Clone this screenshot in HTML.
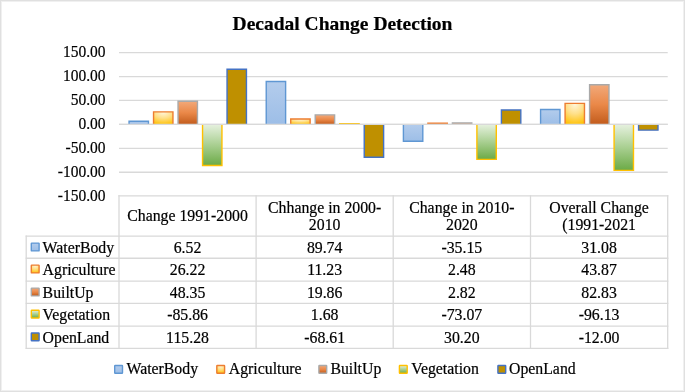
<!DOCTYPE html>
<html><head><meta charset="utf-8"><style>
html,body{margin:0;padding:0;background:#fff;}
body{width:685px;height:392px;overflow:hidden;position:relative;}
svg{position:absolute;left:0;top:0;will-change:transform;}
text{font-family:"Liberation Serif",serif;fill:#000;stroke:#000;stroke-width:0.2px;}
</style></head><body>
<svg width="685" height="392" viewBox="0 0 685 392">
<defs>
<linearGradient id="gWater" x1="0" y1="0" x2="0" y2="1"><stop offset="0" stop-color="#B3CCEC"/><stop offset="1" stop-color="#9DBEE7"/></linearGradient>
<radialGradient id="gAgri" cx="0.5" cy="0.05" r="1.0" fx="0.5" fy="0.05"><stop offset="0" stop-color="#FFF6DA"/><stop offset="0.45" stop-color="#FFE08A"/><stop offset="1" stop-color="#FFC000"/></radialGradient>
<linearGradient id="gBuilt" x1="0" y1="0" x2="0" y2="1"><stop offset="0" stop-color="#F2A97A"/><stop offset="0.5" stop-color="#EA8848"/><stop offset="1" stop-color="#C15B1C"/></linearGradient>
<linearGradient id="gVeg" x1="0" y1="0" x2="0" y2="1"><stop offset="0" stop-color="#E6F1DF"/><stop offset="0.5" stop-color="#A9CF91"/><stop offset="1" stop-color="#6BAA46"/></linearGradient>
</defs>
<rect x="0.5" y="0.5" width="684" height="391" fill="#fff" stroke="#E0E0E0" stroke-width="1"/>
<rect x="1.5" y="1.5" width="682" height="389" fill="none" stroke="#F0F0F0" stroke-width="1"/>

<text x="342.5" y="30" text-anchor="middle" font-weight="bold" font-size="19.5">Decadal Change Detection</text>
<line x1="119.00" x2="667.70" y1="52.59" y2="52.59" stroke="#D9D9D9" stroke-width="1.3"/>
<line x1="119.00" x2="667.70" y1="76.53" y2="76.53" stroke="#D9D9D9" stroke-width="1.3"/>
<line x1="119.00" x2="667.70" y1="100.47" y2="100.47" stroke="#D9D9D9" stroke-width="1.3"/>
<line x1="119.00" x2="667.70" y1="124.40" y2="124.40" stroke="#D9D9D9" stroke-width="1.3"/>
<line x1="119.00" x2="667.70" y1="148.34" y2="148.34" stroke="#D9D9D9" stroke-width="1.3"/>
<line x1="119.00" x2="667.70" y1="172.27" y2="172.27" stroke="#D9D9D9" stroke-width="1.3"/>
<text transform="translate(105.5 57.39) scale(0.912 1)" text-anchor="end" font-size="17">150.00</text>
<text transform="translate(105.5 81.33) scale(0.912 1)" text-anchor="end" font-size="17">100.00</text>
<text transform="translate(105.5 105.27) scale(0.912 1)" text-anchor="end" font-size="17">50.00</text>
<text transform="translate(105.5 129.20) scale(0.912 1)" text-anchor="end" font-size="17">0.00</text>
<text transform="translate(105.5 153.14) scale(0.912 1)" text-anchor="end" font-size="17">-50.00</text>
<text transform="translate(105.5 177.07) scale(0.912 1)" text-anchor="end" font-size="17">-100.00</text>
<text transform="translate(105.5 201.01) scale(0.912 1)" text-anchor="end" font-size="17">-150.00</text>
<rect x="129.05" y="121.28" width="19.40" height="3.12" fill="url(#gWater)"/>
<path d="M129.05 124.40V121.28H148.45V124.40" fill="none" stroke="#5F97D3" stroke-width="1.4"/>
<rect x="266.23" y="81.44" width="19.40" height="42.96" fill="url(#gWater)"/>
<path d="M266.23 124.40V81.44H285.62V124.40" fill="none" stroke="#5F97D3" stroke-width="1.4"/>
<rect x="403.40" y="124.40" width="19.40" height="16.83" fill="url(#gWater)"/>
<path d="M403.40 124.40V141.23H422.80V124.40" fill="none" stroke="#5F97D3" stroke-width="1.4"/>
<rect x="540.58" y="109.52" width="19.40" height="14.88" fill="url(#gWater)"/>
<path d="M540.58 124.40V109.52H559.98V124.40" fill="none" stroke="#5F97D3" stroke-width="1.4"/>
<rect x="153.55" y="111.85" width="19.40" height="12.55" fill="url(#gAgri)"/>
<path d="M153.55 124.40V111.85H172.95V124.40" fill="none" stroke="#ED7D31" stroke-width="1.4"/>
<rect x="290.73" y="119.02" width="19.40" height="5.38" fill="url(#gAgri)"/>
<path d="M290.73 124.40V119.02H310.12V124.40" fill="none" stroke="#ED7D31" stroke-width="1.4"/>
<rect x="427.90" y="123.21" width="19.40" height="1.19" fill="url(#gAgri)"/>
<path d="M427.90 124.40V123.21H447.30V124.40" fill="none" stroke="#ED7D31" stroke-width="1.4"/>
<rect x="565.08" y="103.40" width="19.40" height="21.00" fill="url(#gAgri)"/>
<path d="M565.08 124.40V103.40H584.48V124.40" fill="none" stroke="#ED7D31" stroke-width="1.4"/>
<rect x="178.05" y="101.25" width="19.40" height="23.15" fill="url(#gBuilt)"/>
<path d="M178.05 124.40V101.25H197.45V124.40" fill="none" stroke="#A9A9A9" stroke-width="1.4"/>
<rect x="315.23" y="114.89" width="19.40" height="9.51" fill="url(#gBuilt)"/>
<path d="M315.23 124.40V114.89H334.62V124.40" fill="none" stroke="#A9A9A9" stroke-width="1.4"/>
<rect x="452.40" y="123.05" width="19.40" height="1.35" fill="url(#gBuilt)"/>
<path d="M452.40 124.40V123.05H471.80V124.40" fill="none" stroke="#A9A9A9" stroke-width="1.4"/>
<rect x="589.58" y="84.75" width="19.40" height="39.65" fill="url(#gBuilt)"/>
<path d="M589.58 124.40V84.75H608.98V124.40" fill="none" stroke="#A9A9A9" stroke-width="1.4"/>
<rect x="202.55" y="124.40" width="19.40" height="41.10" fill="url(#gVeg)"/>
<path d="M202.55 124.40V165.50H221.95V124.40" fill="none" stroke="#FFC000" stroke-width="1.4"/>
<rect x="339.73" y="123.60" width="19.40" height="0.80" fill="url(#gVeg)"/>
<path d="M339.73 124.40V123.60H359.12V124.40" fill="none" stroke="#FFC000" stroke-width="1.4"/>
<rect x="476.90" y="124.40" width="19.40" height="34.98" fill="url(#gVeg)"/>
<path d="M476.90 124.40V159.38H496.30V124.40" fill="none" stroke="#FFC000" stroke-width="1.4"/>
<rect x="614.08" y="124.40" width="19.40" height="46.02" fill="url(#gVeg)"/>
<path d="M614.08 124.40V170.42H633.48V124.40" fill="none" stroke="#FFC000" stroke-width="1.4"/>
<rect x="227.05" y="69.22" width="19.40" height="55.18" fill="#BF9000"/>
<path d="M227.05 124.40V69.22H246.45V124.40" fill="none" stroke="#4472C4" stroke-width="1.4"/>
<rect x="364.23" y="124.40" width="19.40" height="32.84" fill="#BF9000"/>
<path d="M364.23 124.40V157.24H383.62V124.40" fill="none" stroke="#4472C4" stroke-width="1.4"/>
<rect x="501.40" y="109.94" width="19.40" height="14.46" fill="#BF9000"/>
<path d="M501.40 124.40V109.94H520.80V124.40" fill="none" stroke="#4472C4" stroke-width="1.4"/>
<rect x="638.58" y="124.40" width="19.40" height="5.74" fill="#BF9000"/>
<path d="M638.58 124.40V130.14H657.98V124.40" fill="none" stroke="#4472C4" stroke-width="1.4"/>
<line x1="119.00" x2="667.70" y1="124.40" y2="124.40" stroke="#D9D9D9" stroke-width="1.4"/>
<line x1="119.0" x2="119.0" y1="195.25" y2="348.95" stroke="#D9D9D9" stroke-width="1.3"/>
<line x1="256.1" x2="256.1" y1="195.25" y2="348.95" stroke="#D9D9D9" stroke-width="1.3"/>
<line x1="393.2" x2="393.2" y1="195.25" y2="348.95" stroke="#D9D9D9" stroke-width="1.3"/>
<line x1="530.5" x2="530.5" y1="195.25" y2="348.95" stroke="#D9D9D9" stroke-width="1.3"/>
<line x1="667.7" x2="667.7" y1="195.25" y2="348.95" stroke="#D9D9D9" stroke-width="1.3"/>
<line x1="118.35" x2="668.35" y1="195.9" y2="195.9" stroke="#D9D9D9" stroke-width="1.3"/>
<line x1="25.6" x2="668.35" y1="236.2" y2="236.2" stroke="#D9D9D9" stroke-width="1.3"/>
<line x1="25.6" x2="668.35" y1="258.25" y2="258.25" stroke="#D9D9D9" stroke-width="1.3"/>
<line x1="25.6" x2="668.35" y1="281.2" y2="281.2" stroke="#D9D9D9" stroke-width="1.3"/>
<line x1="25.6" x2="668.35" y1="303.3" y2="303.3" stroke="#D9D9D9" stroke-width="1.3"/>
<line x1="25.6" x2="668.35" y1="326.1" y2="326.1" stroke="#D9D9D9" stroke-width="1.3"/>
<line x1="25.6" x2="668.35" y1="348.3" y2="348.3" stroke="#D9D9D9" stroke-width="1.3"/>
<line x1="26.2" x2="26.2" y1="235.54999999999998" y2="348.95" stroke="#D9D9D9" stroke-width="1.3"/>
<text x="187.55" y="220.7" text-anchor="middle" font-size="15.8">Change 1991-2000</text>
<text x="324.65" y="212.5" text-anchor="middle" font-size="15.8">Chhange in 2000-</text>
<text x="324.65" y="230.1" text-anchor="middle" font-size="15.8">2010</text>
<text x="461.85" y="212.5" text-anchor="middle" font-size="15.8">Change in 2010-</text>
<text x="461.85" y="230.1" text-anchor="middle" font-size="15.8">2020</text>
<text x="599.10" y="212.5" text-anchor="middle" font-size="15.8">Overall Change</text>
<text x="599.10" y="230.1" text-anchor="middle" font-size="15.8">(1991-2021</text>
<rect x="31.3" y="243.1" width="7.8" height="7.8" rx="0.5" fill="url(#gWater)" stroke="#5F97D3" stroke-width="1.4"/>
<text x="42.6" y="252.6" font-size="15.8">WaterBody</text>
<text x="187.55" y="252.6" text-anchor="middle" font-size="15.8">6.52</text>
<text x="324.65" y="252.6" text-anchor="middle" font-size="15.8">89.74</text>
<text x="461.85" y="252.6" text-anchor="middle" font-size="15.8">-35.15</text>
<text x="599.10" y="252.6" text-anchor="middle" font-size="15.8">31.08</text>
<rect x="31.3" y="265.1" width="7.8" height="7.8" rx="0.5" fill="url(#gAgri)" stroke="#ED7D31" stroke-width="1.4"/>
<text x="42.6" y="274.6" font-size="15.8">Agriculture</text>
<text x="187.55" y="274.6" text-anchor="middle" font-size="15.8">26.22</text>
<text x="324.65" y="274.6" text-anchor="middle" font-size="15.8">11.23</text>
<text x="461.85" y="274.6" text-anchor="middle" font-size="15.8">2.48</text>
<text x="599.10" y="274.6" text-anchor="middle" font-size="15.8">43.87</text>
<rect x="31.3" y="288.1" width="7.8" height="7.8" rx="0.5" fill="url(#gBuilt)" stroke="#A9A9A9" stroke-width="1.4"/>
<text x="42.6" y="297.6" font-size="15.8">BuiltUp</text>
<text x="187.55" y="297.6" text-anchor="middle" font-size="15.8">48.35</text>
<text x="324.65" y="297.6" text-anchor="middle" font-size="15.8">19.86</text>
<text x="461.85" y="297.6" text-anchor="middle" font-size="15.8">2.82</text>
<text x="599.10" y="297.6" text-anchor="middle" font-size="15.8">82.83</text>
<rect x="31.3" y="310.2" width="7.8" height="7.8" rx="0.5" fill="url(#gVeg)" stroke="#FFC000" stroke-width="1.4"/>
<text x="42.6" y="319.7" font-size="15.8">Vegetation</text>
<text x="187.55" y="319.7" text-anchor="middle" font-size="15.8">-85.86</text>
<text x="324.65" y="319.7" text-anchor="middle" font-size="15.8">1.68</text>
<text x="461.85" y="319.7" text-anchor="middle" font-size="15.8">-73.07</text>
<text x="599.10" y="319.7" text-anchor="middle" font-size="15.8">-96.13</text>
<rect x="31.3" y="333.0" width="7.8" height="7.8" rx="0.5" fill="#BF9000" stroke="#4472C4" stroke-width="1.4"/>
<text x="42.6" y="342.5" font-size="15.8">OpenLand</text>
<text x="187.55" y="342.5" text-anchor="middle" font-size="15.8">115.28</text>
<text x="324.65" y="342.5" text-anchor="middle" font-size="15.8">-68.61</text>
<text x="461.85" y="342.5" text-anchor="middle" font-size="15.8">30.20</text>
<text x="599.10" y="342.5" text-anchor="middle" font-size="15.8">-12.00</text>
<rect x="114.7" y="365.5" width="7.8" height="7.8" rx="0.5" fill="url(#gWater)" stroke="#5F97D3" stroke-width="1.4"/>
<text x="126.5" y="374.4" font-size="15.8">WaterBody</text>
<rect x="216.8" y="365.5" width="7.8" height="7.8" rx="0.5" fill="url(#gAgri)" stroke="#ED7D31" stroke-width="1.4"/>
<text x="228.8" y="374.4" font-size="15.8">Agriculture</text>
<rect x="318.9" y="365.5" width="7.8" height="7.8" rx="0.5" fill="url(#gBuilt)" stroke="#A9A9A9" stroke-width="1.4"/>
<text x="330.4" y="374.4" font-size="15.8">BuiltUp</text>
<rect x="399.4" y="365.5" width="7.8" height="7.8" rx="0.5" fill="url(#gVeg)" stroke="#FFC000" stroke-width="1.4"/>
<text x="411.3" y="374.4" font-size="15.8">Vegetation</text>
<rect x="497.9" y="365.5" width="7.8" height="7.8" rx="0.5" fill="#BF9000" stroke="#4472C4" stroke-width="1.4"/>
<text x="509" y="374.4" font-size="15.8">OpenLand</text>
</svg></body></html>
